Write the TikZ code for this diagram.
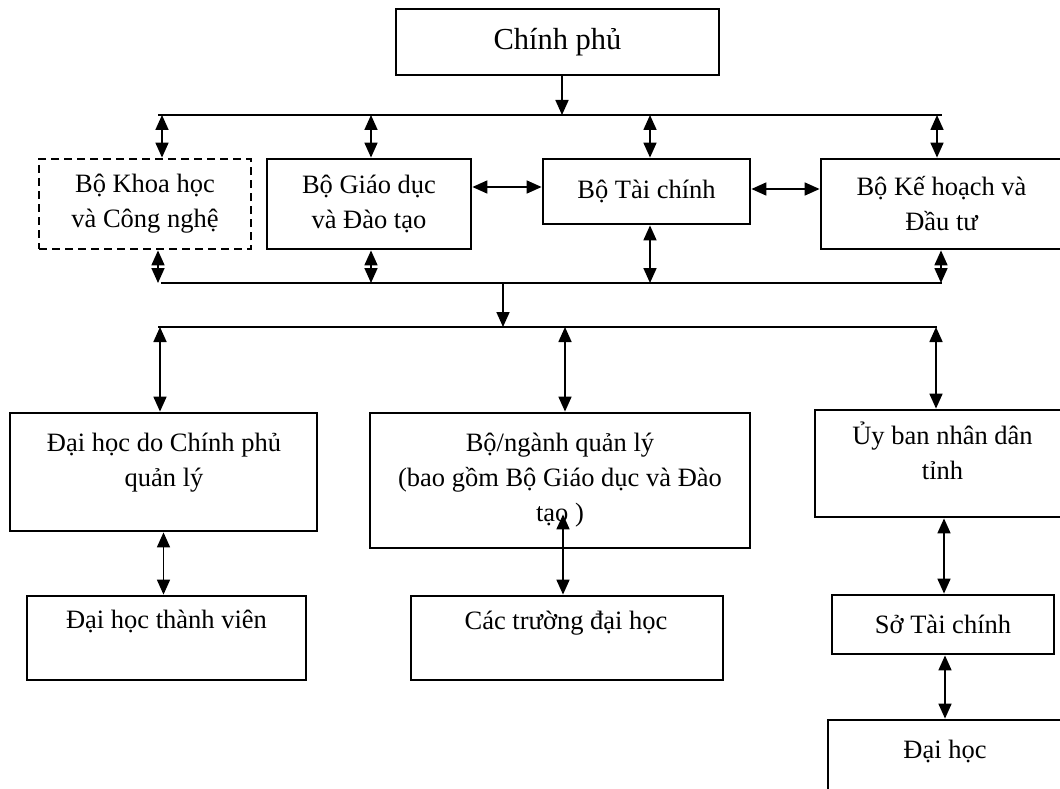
\documentclass[tikz,border=0pt]{standalone}
\usepackage{fontspec}
\setmainfont{Liberation Serif}
\usetikzlibrary{arrows.meta}

\tikzset{
	box/.style = {draw, line width = 2.8pt, inner sep = 0pt, align = center},
	dashbox/.style = {box, dash pattern = on 8pt off 5pt},
	txt/.style = {inner sep = 0pt, align = center},
	bus/.style = {line width = 2pt},
	link/.style = {<->, line width = 1.7pt},
	drop/.style = {->, line width = 1.7pt}
}

\begin{document}
\begin{tikzpicture}[x = 1pt, y = -1pt, > = {Triangle[length = 15pt, width = 13pt]}, font = \fontsize{26.5}{35}\selectfont]

	% Frame
	
	\useasboundingbox (0, 0) rectangle (1060, 789);
	\clip (0, 0) rectangle (1060, 789);
	
	% Government and ministries
	
	\node [box, minimum width = 323, minimum height = 66, font = \fontsize{30.5}{35}\selectfont] (cp) at (557.5, 42) {Chính phủ};
	\node [dashbox, minimum width = 212, minimum height = 90] (khcn) at (145, 204) {Bộ Khoa học\\và Công nghệ};
	\node [box, minimum width = 204, minimum height = 90] (gd) at (369, 204) {Bộ Giáo dục\\và Đào tạo};
	\node [box, minimum width = 207, minimum height = 65] (tc) at (646.5, 191.5) {Bộ Tài chính};
	\node [box, minimum width = 241, minimum height = 90] (khdt) at (941.5, 204) {Bộ Kế hoạch và\\Đầu tư};
	
	% Managing bodies
	
	\node [box, minimum width = 307, minimum height = 118] (dhcp) at (163.5, 472) {};
	\node [txt] (dhcptext) at (164, 463) {Đại học do Chính phủ\\quản lý};
	\node [box, minimum width = 380, minimum height = 135] (nganh) at (560, 480.5) {Bộ/ngành quản lý\\(bao gồm Bộ Giáo dục và Đào\\tạo )};
	\node [box, minimum width = 255, minimum height = 107] (ubnd) at (942.5, 463.5) {};
	\node [txt] (ubndtext) at (942.5, 451) {Ủy ban nhân dân\\tỉnh};
	
	% Universities
	
	\node [box, minimum width = 279, minimum height = 84] (dhtv) at (166.5, 638) {};
	\node [txt] (dhtvtext) at (166.5, 621) {Đại học thành viên};
	\node [box, minimum width = 312, minimum height = 84] (truong) at (567, 638) {};
	\node [txt] (truongtext) at (566, 623) {Các trường đại học};
	\node [box, minimum width = 222, minimum height = 59] (sotc) at (943, 624.5) {Sở Tài chính};
	\node [box, minimum width = 234, minimum height = 140] (dh) at (945, 790) {};
	\node [txt] (dhtext) at (945, 751) {Đại học};
	
	% Buses
	
	\coordinate (bus1w) at (158, 115);
	\coordinate (bus1e) at (942, 115);
	\coordinate (bus2w) at (161, 283);
	\coordinate (bus2e) at (942, 283);
	\coordinate (bus3w) at (158, 327);
	\coordinate (bus3e) at (937, 327);
	
	\draw [bus] (bus1w) -- (bus1e);
	\draw [bus] (bus2w) -- (bus2e);
	\draw [bus] (bus3w) -- (bus3e);
	
	% Links
	
	\draw [drop] ([xshift = 4.5pt] cp.south) -- ([xshift = 4.5pt] cp.south |- bus1w);
	
	\foreach \x/\n in {162/khcn, 371/gd, 650/tc, 937/khdt}
		\draw [link] (\x,0 |- bus1w) -- (\x,0 |- \n.north);
	
	\foreach \x/\n in {158/khcn, 371/gd, 650/tc, 941/khdt}
		\draw [link] (\x,0 |- \n.south) -- (\x,0 |- bus2w);
	
	\draw [link] ([yshift = 4.5pt] gd.east |- tc.west) -- ([yshift = 4.5pt] tc.west);
	\draw [link] ([yshift = 2.5pt] tc.east) -- ([yshift = 2.5pt] tc.east -| khdt.west);
	
	\draw [drop] (503,0 |- bus2w) -- (503,0 |- bus3w);
	
	\foreach \x/\n in {160/dhcp, 565/nganh, 936/ubnd}
		\draw [link] (\x,0 |- bus3w) -- (\x,0 |- \n.north);
	
	\draw [link] (dhcp.south) -- (dhcp.south |- dhtv.north);
	\draw [link] ([xshift = 3pt, yshift = 35pt] nganh.south) -- ([xshift = 3pt] nganh.south |- truong.north);
	\draw [link] ([xshift = 1.5pt] ubnd.south) -- ([xshift = 1.5pt] ubnd.south |- sotc.north);
	\draw [link] ([xshift = 2pt] sotc.south) -- ([xshift = 2pt] sotc.south |- dh.north);

\end{tikzpicture}
\end{document}
